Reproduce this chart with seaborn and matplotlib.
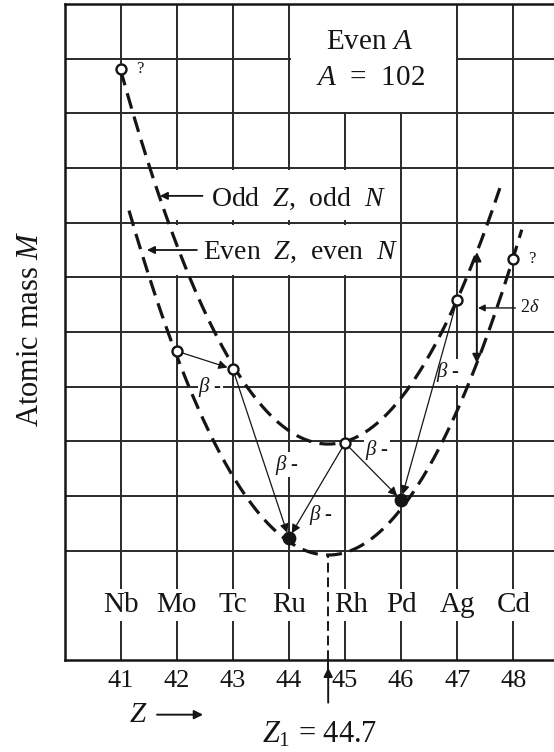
import numpy as np
import pandas as pd
import matplotlib
matplotlib.use("Agg")
import matplotlib.pyplot as plt
from matplotlib.patches import Rectangle
import seaborn as sns

# ---------------- data ----------------
z_values = [41, 42, 43, 44, 45, 46, 47, 48]
elements = ["Nb", "Mo", "Tc", "Ru", "Rh", "Pd", "Ag", "Cd"]
atomic_mass = [10.82, 5.65, 5.32, 2.23, 3.97, 2.93, 6.59, 7.33]
filled = [False, False, False, True, False, True, False, False]
uncertain = [True, False, False, False, False, False, False, True]

# mass parabolas (vertex and curvature)
z_a = 44.7
odd_min_mass = 3.95
even_min_mass = 1.92
curvature = 0.5
odd_span = (41.0, 47.76)
even_span = (41.15, 48.15)

beta_decays = [("Mo", "Tc"), ("Tc", "Ru"), ("Rh", "Ru"), ("Rh", "Pd"), ("Ag", "Pd")]
beta_label_z = [42.6, 43.96, 44.58, 45.57, 46.84]
beta_label_m = [5.0, 3.57, 2.65, 3.84, 5.27]
delta_z = 47.35

tick_labels = [str(z) for z in z_values]
grid_levels = [2, 3, 4, 5, 6, 7, 8, 9, 10, 11]

# ---------------- style ----------------
sns.set_theme(style="white")
plt.rcParams["font.family"] = ["Liberation Serif", "DejaVu Serif"]
plt.rcParams["mathtext.fontset"] = "custom"
plt.rcParams["mathtext.rm"] = "Liberation Serif"
plt.rcParams["mathtext.it"] = "Liberation Serif:italic"
plt.rcParams["mathtext.bf"] = "Liberation Serif:bold"

ink = "#151515"
grid_col = "#2a2a2a"

fig = plt.figure(figsize=(5.54, 7.52), dpi=100)
fig.patch.set_facecolor("white")
ax = fig.add_axes([64.5 / 554, 92 / 752, 489.5 / 554, 656 / 752])
ax.set_facecolor("white")


def parabola(zz, m0):
    return m0 + curvature * (np.asarray(zz) - z_a) ** 2


# curves
for span, m0 in [(odd_span, odd_min_mass), (even_span, even_min_mass)]:
    zz = np.linspace(span[0], span[1], 300)
    df = pd.DataFrame({"Z": zz, "M": parabola(zz, m0)})
    sns.lineplot(data=df, x="Z", y="M", ax=ax, color=ink, lw=2.3, zorder=3)
    ax.lines[-1].set_linestyle((0, (5, 2.6)))

# nuclide points
pts = pd.DataFrame({"Z": z_values, "M": atomic_mass, "filled": filled})
sns.scatterplot(data=pts[~pts["filled"]], x="Z", y="M", ax=ax, s=52,
                color="white", edgecolor=ink, linewidth=1.7, zorder=6)
sns.scatterplot(data=pts[pts["filled"]], x="Z", y="M", ax=ax, s=80,
                color=ink, edgecolor=ink, linewidth=1.0, zorder=6)

lookup = {e: (z, m) for e, z, m in zip(elements, z_values, atomic_mass)}

# beta decay arrows
for (a, b), lz, lm in zip(beta_decays, beta_label_z, beta_label_m):
    ax.annotate("", xy=lookup[b], xytext=lookup[a],
                arrowprops=dict(arrowstyle="-|>", color=ink, lw=0.9,
                                shrinkA=4, shrinkB=4, mutation_scale=13),
                zorder=5)
    ax.text(lz, lm, r"$\beta$ -", fontsize=15, ha="center", va="center",
            color=ink, zorder=2.5,
            bbox=dict(fc="white", ec="none", pad=0.5))

# 2 delta double arrow
ax.annotate("", xy=(delta_z, parabola(delta_z, odd_min_mass)),
            xytext=(delta_z, parabola(delta_z, even_min_mass)),
            arrowprops=dict(arrowstyle="<|-|>", color=ink, lw=1.4,
                            shrinkA=0, shrinkB=0, mutation_scale=13), zorder=5)
ax.annotate(r"2$\delta$", xy=(delta_z + 0.02, 6.44), xytext=(48.12, 6.44),
            fontsize=13, ha="left", va="center", color=ink,
            arrowprops=dict(arrowstyle="-|>", color=ink, lw=1.0,
                            shrinkA=1, shrinkB=0, mutation_scale=10),
            annotation_clip=False, zorder=5)

# question marks on uncertain nuclides
for z, m, q in zip(z_values, atomic_mass, uncertain):
    if q:
        ax.text(z + 0.27, m, "?", fontsize=12, ha="left", va="center",
                color=ink, zorder=5)

# Z_A marker
ax.plot([z_a, z_a], [0, even_min_mass], color=ink, lw=1.4,
        ls=(0, (5, 2.5)), zorder=4)
ax.annotate("", xy=(z_a, -0.14), xytext=(z_a, -0.78),
            arrowprops=dict(arrowstyle="-|>", color=ink, lw=1.4,
                            shrinkA=0, shrinkB=0, mutation_scale=13),
            annotation_clip=False)
ax.plot([z_a, z_a], [-0.2, 0], color=ink, lw=1.4, clip_on=False)
ax.text(44.55, -1.37, r"$Z_1$ = 44.7", fontsize=22, ha="center",
        va="center", color=ink, clip_on=False)

# element symbols in the label row
label_dx = {"Rh": 0.1}
for z, sym in zip(z_values, elements):
    ax.text(z + label_dx.get(sym, 0.0), 1.0, sym, fontsize=21, ha="center",
            va="center", color=ink, zorder=2,
            bbox=dict(fc="white", ec="none", pad=2.0))

# text boxes over the grid
for (x0, y0, w, h) in [(44.03, 10.03, 2.94, 1.97),
                       (41.75, 8.04, 4.21, 0.92),
                       (41.95, 7.04, 4.01, 0.92)]:
    ax.add_patch(Rectangle((x0, y0), w, h, fc="white", ec="none", zorder=1))

ax.text(45.43, 11.31, r"Even $A$", fontsize=21, ha="center", va="center",
        color=ink, zorder=2)
ax.text(45.45, 10.64, r"$A$  =  102", fontsize=21, ha="center", va="center",
        color=ink, zorder=2)
ax.text(42.62, 8.43, r"Odd  $Z$,  odd  $N$", fontsize=20, ha="left",
        va="center", color=ink, zorder=2)
ax.annotate("", xy=(41.70, 8.49), xytext=(42.46, 8.49),
            arrowprops=dict(arrowstyle="-|>", color=ink, lw=1.3,
                            shrinkA=0, shrinkB=0, mutation_scale=11), zorder=4)
ax.text(42.46, 7.46, r"Even  $Z$,  even  $N$", fontsize=20, ha="left",
        va="center", color=ink, zorder=2)
ax.annotate("", xy=(41.47, 7.50), xytext=(42.36, 7.50),
            arrowprops=dict(arrowstyle="-|>", color=ink, lw=1.3,
                            shrinkA=0, shrinkB=0, mutation_scale=11), zorder=4)

# axis arrow "Z ->"
ax.text(41.31, -1.0, r"$Z$", fontsize=21, ha="center", va="center",
        color=ink, clip_on=False)
ax.annotate("", xy=(42.47, -1.0), xytext=(41.65, -1.0),
            arrowprops=dict(arrowstyle="-|>", color=ink, lw=1.4,
                            shrinkA=0, shrinkB=0, mutation_scale=13),
            annotation_clip=False)

fig.text(31 / 554, 1 - 329 / 752, r"Atomic mass $M$", rotation=90,
         fontsize=22, ha="center", va="center", color=ink)

# axes, grid
ax.set_xlim(40, 48.725)
ax.set_ylim(0, 12)
ax.set_xticks(z_values)
ax.set_xticklabels(tick_labels, fontsize=19, color=ink)
ax.set_yticks(grid_levels)
ax.set_yticklabels([])
ax.tick_params(axis="both", length=0, pad=7)
ax.grid(True, color=grid_col, lw=1.4)
ax.set_axisbelow(True)
ax.set_xlabel("")
ax.set_ylabel("")
for side in ["left", "bottom", "top"]:
    ax.spines[side].set_visible(True)
    ax.spines[side].set_color(ink)
    ax.spines[side].set_linewidth(1.8)
ax.spines["right"].set_visible(False)

fig.savefig("out.png", dpi=100, facecolor="white")
